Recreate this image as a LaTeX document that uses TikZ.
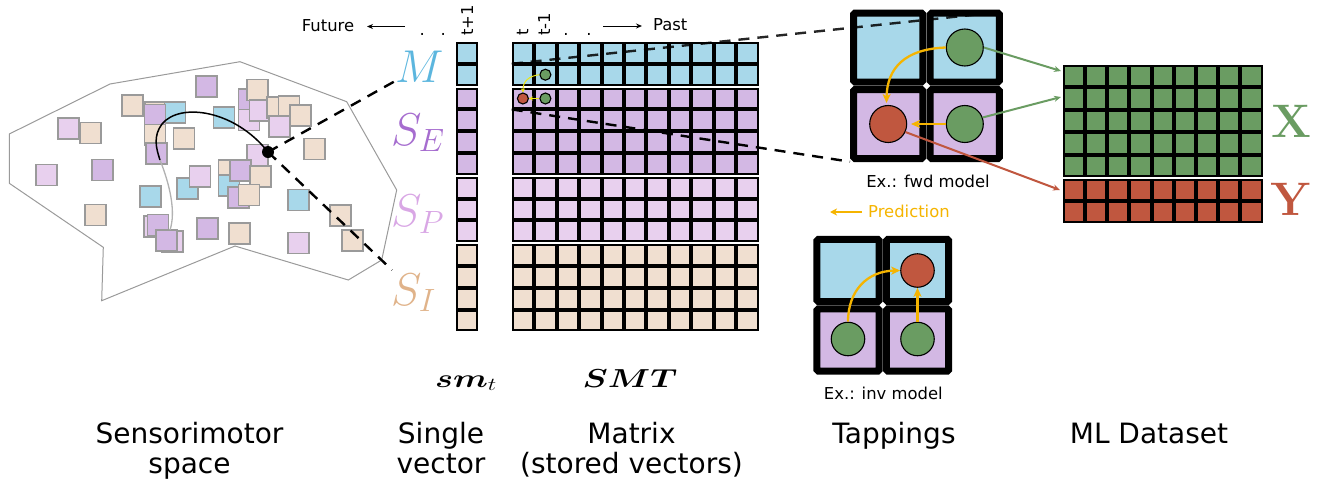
\RequirePackage{fix-cm}
\documentclass[tikz,border=0pt]{standalone}
\usepackage[no-math]{fontspec}
\setmainfont{DejaVu Sans}
\usepackage{bm}
\usetikzlibrary{arrows.meta}
\definecolor{cM}{HTML}{A8D8EA}
\definecolor{cSE}{HTML}{D3B8E4}
\definecolor{cSP}{HTML}{E8D0EE}
\definecolor{cSI}{HTML}{F0DFD0}
\definecolor{cG}{HTML}{6A9C62}
\definecolor{cR}{HTML}{C0573F}
\definecolor{cOr}{HTML}{F5B400}
\definecolor{cYe}{HTML}{EEE810}
\definecolor{lM}{HTML}{5CB6DE}
\definecolor{lSE}{HTML}{A66DCF}
\definecolor{lSP}{HTML}{D9A7E5}
\definecolor{lSI}{HTML}{E0B38A}
\definecolor{grayb}{HTML}{9A9A9A}
% x0, y0, ncols, nrows, cell width, cell height, colour
\newcommand{\cellgrid}[7]{%
  \fill[black] (#1,#2) rectangle ({#1+#3*#5},{#2+#4*#6});
  \foreach \ci in {1,...,#3}{\foreach \ri in {1,...,#4}{
    \fill[#7] ({#1+(\ci-1)*#5+2},{#2+(\ri-1)*#6+2}) rectangle ({#1+\ci*#5-2},{#2+\ri*#6-2});
  }}}
\begin{document}
\begin{tikzpicture}[x=1pt,y=-1pt,
  sq/.style={draw=grayb,line width=1.6pt},
  tapcell/.style={draw=black,line width=7pt,rounded corners=1.5pt},
  bigc/.style={circle,draw=black,line width=1.1pt,inner sep=0pt},
  dashl/.style={line width=2.4pt,dash pattern=on 11pt off 8pt},
  orar/.style={draw=cOr,line width=2.3pt,-{Stealth[length=9pt,width=8pt,inset=2.5pt]}},
  year/.style={draw=cYe,line width=1pt,-{Stealth[length=4pt,width=4pt]}},
  txs/.style={font=\fontsize{16.4}{19}\selectfont,inner sep=0pt},
  txb/.style={font=\fontsize{28}{30}\selectfont,inner sep=0pt},
  txm/.style={font=\fontsize{46}{50}\selectfont,inner sep=0pt},
  txbm/.style={font=\fontsize{26}{28}\selectfont,inner sep=0pt,anchor=base,xscale=1.3},
]
\useasboundingbox (0,0) rectangle (1323,485);

% ---------- sensorimotor space ----------
\draw[grayb,line width=1pt] (9.3,134) -- (110,84) -- (240,61.7) -- (346.7,101.7) -- (396.7,190) -- (381.7,260) -- (348.3,280) -- (235,246) -- (101.7,300.7) -- (103.3,247.3) -- (9.3,183.3) -- cycle;
\foreach \x/\y/\c in {57.7/117.7/cSP,80/122.3/cSI,36/164.3/cSP,92/159.3/cSE,85/204.3/cSI,
  121.7/95/cSI,145/101.7/cSI,164.3/101.7/cM,144.3/104.3/cSE,144.3/124.3/cSI,145.7/143/cSE,
  173.3/127.7/cSI,196/75.7/cSE,213.3/106.7/cM,238.3/89/cSE,246.7/79.3/cSI,238.3/109.3/cSP,
  249.3/100/cSP,266.7/96.7/cSI,278.3/95.7/cSI,268.7/115.7/cSP,290/105/cSI,304/138.3/cSI,
  246.7/144.3/cSP,176.7/177.7/cM,189.3/165.7/cSP,218.3/160/cSI,218.3/175/cM,230/160/cSE,
  250/165.7/cSI,227.7/186.7/cSE,238.3/184.3/cSI,140/185.7/cM,287.7/189.3/cM,330/205/cSI,
  144/216/cSP,147.3/214.3/cSE,161.7/231/cSP,155.7/230/cSE,196.7/217.7/cSE,229/222.7/cSI,
  287.7/232.3/cSP,341.7/230/cSI}
  \draw[sq,fill=\c] (\x,\y) rectangle ++(21,21);
\node[circle,fill=black,minimum size=12pt,inner sep=0pt] (dot) at (268,152) {};
\draw[black,line width=1.5pt] (dot.center) .. controls (235,110) and (180,102) .. (162,124) .. controls (153,136) and (156,148) .. (160,160);
\draw[gray!60,line width=1.3pt] (160,160) .. controls (170,185) and (176,212) .. (170,230);
\coordinate (mEnd) at (397,80);
\coordinate (siEnd) at (392,270);
\draw[dashl] (dot.center) -- (mEnd);
\draw[dashl] (dot.center) -- (siEnd);

% ---------- labels M, S ----------
\node[txm,text=lM,anchor=base west] (lblM) at (395,82) {$M$};
\node[txm,text=lSE,anchor=base west] (lblSE) at (391,145) {$S_E$};
\node[txm,text=lSP,anchor=base west] (lblSP) at (391,226.7) {$S_P$};
\node[txm,text=lSI,anchor=base west] (lblSI) at (391,305) {$S_I$};

% ---------- single vector & matrix ----------
\cellgrid{456}{42}{1}{2}{22}{21.8}{cM}
\cellgrid{456}{87.6}{1}{4}{22}{21.8}{cSE}
\cellgrid{456}{176.8}{1}{3}{22}{21.8}{cSP}
\cellgrid{456}{244.2}{1}{4}{22}{21.8}{cSI}
\cellgrid{511.7}{42}{11}{2}{22.45}{21.8}{cM}
\cellgrid{511.7}{87.6}{11}{4}{22.45}{21.8}{cSE}
\cellgrid{511.7}{176.8}{11}{3}{22.45}{21.8}{cSP}
\cellgrid{511.7}{244.2}{11}{4}{22.45}{21.8}{cSI}
\node[bigc,fill=cG,minimum size=11pt] (mg1) at (545.4,74.7) {};
\node[bigc,fill=cG,minimum size=11pt] (mg2) at (545.4,98.5) {};
\node[bigc,fill=cR,minimum size=11pt] (mr) at (522.9,98.5) {};
\draw[year] (mg1.west) .. controls (529,76) and (523,81) .. (mr.north);
\draw[year] (mg2.west) -- (mr.east);

% top labels
\node[txs,anchor=base west] (future) at (301.7,31) {Future};
\coordinate (fA) at (405,26.5);
\coordinate (fB) at (367,26.5);
\draw[line width=1pt,-{Stealth[length=6pt,width=5pt]}] (fA) -- (fB);
\node[txs,anchor=base] (d1) at (422.3,35) {.};
\node[txs,anchor=base] (d2) at (443.3,35) {.};
\node[txs,rotate=90,anchor=base west] (tp1) at (473,36) {t+1};
\node[txs,rotate=90,anchor=base west] (t0) at (528.3,36) {t};
\node[txs,rotate=90,anchor=base west] (tm1) at (550,36) {t-1};
\node[txs,anchor=base] (d3) at (566,35) {.};
\node[txs,anchor=base] (d4) at (589,35) {.};
\coordinate (pA) at (603,26);
\coordinate (pB) at (642,26);
\draw[line width=1pt,-{Stealth[length=6pt,width=5pt]}] (pA) -- (pB);
\node[txs,anchor=base west] (past) at (653,30) {Past};

% ---------- tappings (fwd) ----------
\draw[tapcell,fill=cM] (853.6,13) rectangle (922.8,82.1);
\draw[tapcell,fill=cM] (930.2,13) rectangle (999.3,82.1);
\draw[tapcell,fill=cSE] (853.6,89.5) rectangle (922.8,158.6);
\draw[tapcell,fill=cSE] (930.2,89.5) rectangle (999.3,158.6);
\node[bigc,fill=cG,minimum size=37pt] (fg1) at (964.8,47.5) {};
\node[bigc,fill=cG,minimum size=37pt] (fg2) at (964.8,124) {};
\node[bigc,fill=cR,minimum size=37pt] (fr) at (888.2,124) {};
\draw[orar] (fg1.west) .. controls (905,49) and (887,68) .. (886.5,103);
\draw[orar] (fg2.west) -- (911,124);
\node[txs,anchor=base] (fwdlbl) at (928,187) {Ex.: fwd model};

% dashed zoom lines
\coordinate (mzTop) at (511.7,63.8);
\coordinate (mzBot) at (511.7,109.4);
\coordinate (tzTop) at (1000,12);
\coordinate (tzBot) at (850,161.7);
\draw[dashl,draw opacity=0.85] (mzTop) -- (tzTop);
\draw[dashl] (mzBot) -- (tzBot);

% prediction legend
\coordinate (prA) at (862,212);
\coordinate (prB) at (830,212);
\draw[draw=cOr,line width=2pt,-{Stealth[length=7pt,width=7pt,inset=2pt]}] (prA) -- (prB);
\node[txs,text=cOr,anchor=base west] (pred) at (868,217) {Prediction};

% ---------- tappings (inv) ----------
\draw[tapcell,fill=cM] (816.9,239.3) rectangle (879.2,301.6);
\draw[tapcell,fill=cM] (886.4,239.3) rectangle (948.7,301.6);
\draw[tapcell,fill=cSE] (816.9,308.8) rectangle (879.2,371.1);
\draw[tapcell,fill=cSE] (886.4,308.8) rectangle (948.7,371.1);
\node[bigc,fill=cR,minimum size=33.5pt] (ir) at (917.5,270.5) {};
\node[bigc,fill=cG,minimum size=33.5pt] (ig1) at (848,339) {};
\node[bigc,fill=cG,minimum size=33.5pt] (ig2) at (917.5,339) {};
\draw[orar] (ig1.north) .. controls (848,290) and (868,271) .. (ir.west);
\draw[orar] (ig2.north) -- (ir.south);
\node[txs,anchor=base] (invlbl) at (883.3,399) {Ex.: inv model};

% ---------- ML dataset ----------
\cellgrid{1062.7}{65}{9}{5}{22.2}{22.4}{cG}
\cellgrid{1062.7}{179}{9}{2}{22.2}{22.2}{cR}
\coordinate (dX1) at (1061,71);
\coordinate (dX2) at (1061,97);
\coordinate (dY) at (1060,190);
\draw[cG,line width=2pt,-{Stealth[length=7pt,width=6pt]}] (fg1.east) -- (dX1);
\draw[cG,line width=2pt,-{Stealth[length=7pt,width=6pt]}] (fg2.20) -- (dX2);
\draw[cR,line width=2pt,-{Stealth[length=7pt,width=6pt]}] (fr.-25) -- (dY);
\node[font=\fontsize{47}{50}\selectfont,inner sep=0pt,text=cG,anchor=base] (lX) at (1291,137.3) {$\mathbf{X}$};
\node[font=\fontsize{47}{50}\selectfont,inner sep=0pt,text=cR,anchor=base] (lY) at (1291,215) {$\mathbf{Y}$};

% ---------- math names ----------
\node[txbm] (smt) at (466,387) {$\bm{sm}_t$};
\node[txbm] (SMT) at (630,387) {$\bm{SMT}$};

% ---------- bottom captions ----------
\node[txb,anchor=base] (c1a) at (189.5,443) {Sensorimotor};
\node[txb,anchor=base] (c1b) at (189.5,473) {space};
\node[txb,anchor=base] (c2a) at (441,443) {Single};
\node[txb,anchor=base] (c2b) at (441,473) {vector};
\node[txb,anchor=base] (c3a) at (631.5,443) {Matrix};
\node[txb,anchor=base] (c3b) at (631.5,473) {(stored vectors)};
\node[txb,anchor=base] (c4) at (894,443) {Tappings};
\node[txb,anchor=base] (c5) at (1149,443) {ML Dataset};
\end{tikzpicture}
\end{document}
